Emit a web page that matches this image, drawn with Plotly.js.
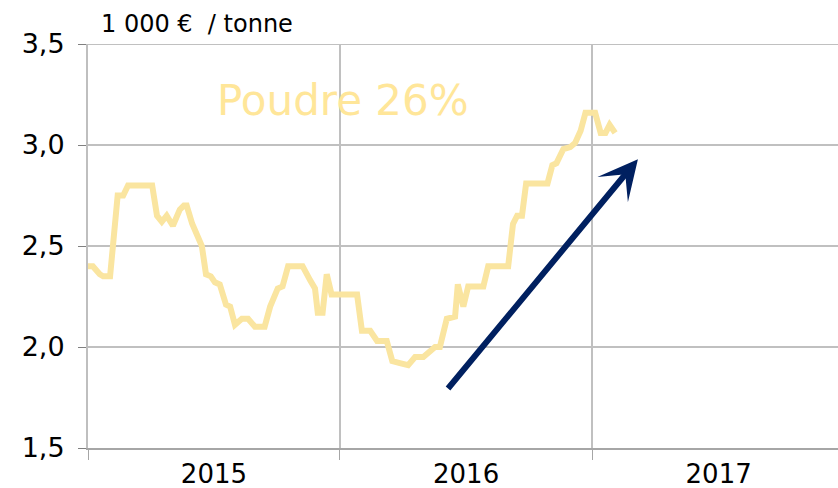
<!DOCTYPE html>
<html>
<head>
<meta charset="utf-8">
<script src="https://cdn.plot.ly/plotly-3.0.1.min.js"></script>
<style>
html,body{margin:0;padding:0;background:#fff;}
#chart{width:838px;height:488px;}
</style>
</head>
<body>
<div id="chart"></div>
<script>
// Weekly price of 26% milk powder, thousand € per tonne
const dates = [
  "2015-01-01","2015-01-08","2015-01-18","2015-01-23","2015-02-02","2015-02-06","2015-02-13","2015-02-21",
  "2015-02-28","2015-04-04","2015-04-11","2015-04-18","2015-04-25","2015-05-04","2015-05-14","2015-05-20",
  "2015-05-24","2015-06-01","2015-06-15","2015-06-21","2015-06-28","2015-07-04","2015-07-11","2015-07-20",
  "2015-07-26","2015-08-02","2015-08-12","2015-08-21","2015-08-31","2015-09-14","2015-09-22","2015-10-03",
  "2015-10-10","2015-10-18","2015-11-08","2015-11-19","2015-11-26","2015-11-30","2015-12-07","2015-12-13",
  "2015-12-20","2016-01-26","2016-02-02","2016-02-14","2016-02-24","2016-03-09","2016-03-17","2016-03-28",
  "2016-04-09","2016-04-19","2016-05-01","2016-05-18","2016-05-25","2016-06-04","2016-06-16","2016-06-20",
  "2016-06-28","2016-07-05","2016-07-27","2016-08-03","2016-09-01","2016-09-08","2016-09-14","2016-09-21",
  "2016-09-27","2016-10-28","2016-11-04","2016-11-10","2016-11-20","2016-11-30","2016-12-07","2016-12-15",
  "2016-12-22","2017-01-05","2017-01-13","2017-01-20","2017-01-26","2017-02-03"
];
const prices = [
  2.40,2.40,2.36,2.35,2.35,2.50,2.75,2.75,
  2.80,2.80,2.65,2.62,2.65,2.60,2.68,2.70,
  2.70,2.61,2.50,2.36,2.35,2.32,2.31,2.21,
  2.20,2.11,2.14,2.14,2.10,2.10,2.20,2.29,
  2.30,2.40,2.40,2.33,2.29,2.17,2.17,2.36,
  2.26,2.26,2.08,2.08,2.03,2.03,1.93,1.92,
  1.91,1.95,1.95,2.00,2.00,2.14,2.15,2.31,
  2.20,2.30,2.30,2.40,2.40,2.61,2.65,2.65,
  2.81,2.81,2.90,2.91,2.98,2.99,3.01,3.07,
  3.16,3.16,3.06,3.06,3.10,3.06
];
const seriesName = "Poudre 26%";
const unitLabel = "1 000 €  / tonne";
const yTickVals = [1.5, 2.0, 2.5, 3.0, 3.5];
const yTickText = ["1,5", "2,0", "2,5", "3,0", "3,5"];
// trend arrow: tail and head (date, value)
const arrowTail = ["2016-06-04", 1.787];
const arrowHead = ["2017-03-08", 2.93];

const font = "DejaVu Sans, Verdana, sans-serif";

const data = [{
  x: dates, y: prices, type: "scatter", mode: "lines", name: seriesName,
  line: {color: "#FAE5A0", width: 6}, hoverinfo: "skip"
}];

const layout = {
  width: 838, height: 488,
  margin: {l: 88, r: 0, t: 44, b: 40},
  paper_bgcolor: "#ffffff", plot_bgcolor: "#ffffff",
  showlegend: false,
  font: {family: font, color: "#000"},
  xaxis: {
    type: "date",
    range: ["2015-01-01", "2017-12-23"],
    tick0: "2015-01-01", dtick: "M12",
    ticklabelmode: "period", tickformat: "%Y",
    showgrid: true, gridcolor: "#C0C0C0", gridwidth: 2,
    showline: true, linecolor: "#A6A6A6", linewidth: 2,
    ticks: "outside", ticklen: 10, tickwidth: 1, tickcolor: "#A6A6A6",
    tickfont: {size: 26, family: font, color: "#000"},
    ticklabelstandoff: -8,
    zeroline: false, fixedrange: true
  },
  yaxis: {
    range: [1.5, 3.5],
    tickvals: yTickVals, ticktext: yTickText,
    showgrid: true, gridcolor: "#C0C0C0", gridwidth: 2,
    showline: true, linecolor: "#BFBFBF", linewidth: 2,
    ticks: "outside", ticklen: 8, tickwidth: 1, tickcolor: "#808080",
    tickfont: {size: 27, family: font, color: "#000"},
    ticklabelstandoff: 8,
    zeroline: false, fixedrange: true
  },
  shapes: [{
    type: "line", xref: "paper", yref: "y", x0: 0, x1: 1, y0: 3.5, y1: 3.5,
    line: {color: "#C0C0C0", width: 2}, layer: "below"
  }],
  annotations: [
    {
      xref: "paper", yref: "paper", x: 0.014, y: 1.0, xanchor: "left", yanchor: "bottom",
      yshift: 4, text: unitLabel, showarrow: false,
      font: {size: 24, family: font, color: "#000"}
    },
    {
      xref: "x", yref: "y", x: "2015-07-04", y: 3.22, xanchor: "left", yanchor: "middle",
      text: seriesName, showarrow: false,
      font: {size: 42, family: font, color: "#FFE699"}
    },
    {
      xref: "x", yref: "y", axref: "x", ayref: "y",
      x: arrowHead[0], y: arrowHead[1], ax: arrowTail[0], ay: arrowTail[1],
      text: "", showarrow: true, arrowhead: 3, arrowsize: 1.1, arrowwidth: 6,
      arrowcolor: "#002060", standoff: 0, startstandoff: 0
    }
  ]
};

Plotly.newPlot("chart", data, layout, {displayModeBar: false, staticPlot: true});
</script>
</body>
</html>
